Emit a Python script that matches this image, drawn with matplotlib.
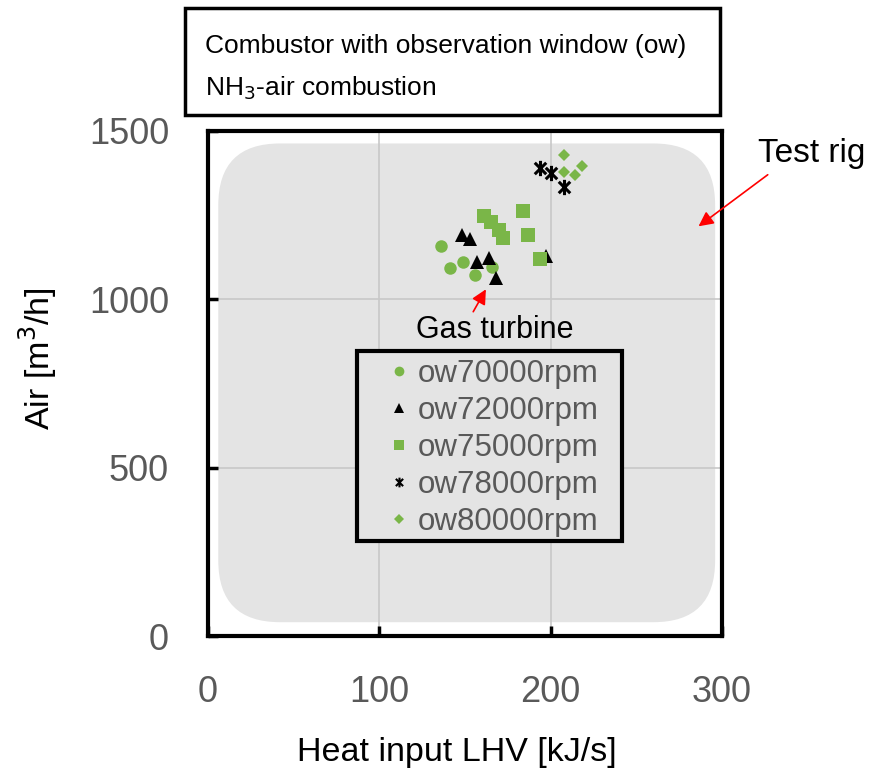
import matplotlib.pyplot as plt
from matplotlib.lines import Line2D
from matplotlib.patches import FancyBboxPatch, Rectangle
from matplotlib.path import Path

plt.rcParams['font.family'] = ['Liberation Sans', 'DejaVu Sans']

# heat input LHV [kJ/s] and air flow [m3/h] for each rotor speed
heat_70000 = [136, 141, 149, 156, 166]
air_70000 = [1157, 1093, 1110, 1071, 1096]
heat_72000 = [148, 153, 157, 164, 168, 197]
air_72000 = [1192, 1178, 1112, 1122, 1062, 1128]
heat_75000 = [161, 165, 170, 172, 184, 187, 194]
air_75000 = [1249, 1231, 1207, 1183, 1261, 1192, 1121]
heat_78000 = [194, 200, 208]
air_78000 = [1390, 1375, 1333]
heat_80000 = [208, 208, 218, 214]
air_80000 = [1430, 1378, 1396, 1370]

# operating range of the test rig (heat input, air)
rig_heat = (6, 296)
rig_air = (41, 1463)

green = '#7AB648'
grey_txt = '#595959'
grey_bg = '#e4e4e4'

# six-armed star like the spreadsheet "star" marker
star = Path([(0, -1), (0, 1), (-0.75, -0.75), (0.75, 0.75), (-0.75, 0.75), (0.75, -0.75)],
            [Path.MOVETO, Path.LINETO] * 3)

fig = plt.figure(figsize=(8.72, 7.71), dpi=100)
ax = fig.add_axes([208 / 872, 135 / 771, 514 / 872, 505 / 771])

# grey rounded box = test rig range
rig = FancyBboxPatch((rig_heat[0], rig_air[0]), rig_heat[1] - rig_heat[0], rig_air[1] - rig_air[0],
                     boxstyle='round,pad=0,rounding_size=36', mutation_aspect=5.09,
                     facecolor=grey_bg, edgecolor='none', zorder=0.5)
ax.add_patch(rig)

ax.plot(heat_70000, air_70000, 'o', color=green, ms=9, mew=0, zorder=3)
ax.plot(heat_72000, air_72000, '^', color='black', ms=9.4, mew=0, zorder=3)
ax.plot(heat_75000, air_75000, 's', color=green, ms=9.6, mew=0, zorder=3)
ax.plot(heat_78000, air_78000, marker=star, ls='none', mec='black', mfc='none', ms=11, mew=2.2, zorder=3)
ax.plot(heat_80000, air_80000, 'D', color=green, ms=6.6, mew=0, zorder=3)

ax.set_xlim(0, 300)
ax.set_ylim(0, 1500)
ax.set_xticks([0, 100, 200, 300])
ax.set_yticks([0, 500, 1000, 1500])
ax.grid(True, color='#c8c8c8', lw=1.2, zorder=1)
ax.set_axisbelow(True)

for s in ax.spines.values():
    s.set_linewidth(3)
ax.tick_params(direction='in', length=7, width=2.5, color='black',
               labelcolor=grey_txt, labelsize=26, pad=28)

ax.set_xlabel('Heat input LHV [kJ/s]', fontsize=24.5)
ax.xaxis.set_label_coords(0.485, -0.2)
ax.set_ylabel('Air [m$^3$/h]', fontsize=24.5)
ax.yaxis.set_label_coords(-0.29, 0.55)

# legend: own frame box, legend itself without frame
ax.add_patch(Rectangle((0.290, 0.188), 0.515, 0.376, transform=ax.transAxes,
                       facecolor=grey_bg, edgecolor='black', lw=3, zorder=3.5))
handles = [
    Line2D([], [], ls='none', marker='o', color=green, ms=7, mew=0),
    Line2D([], [], ls='none', marker='^', color='black', ms=7, mew=0),
    Line2D([], [], ls='none', marker='s', color=green, ms=7, mew=0),
    Line2D([], [], ls='none', marker=star, mec='black', mfc='none', ms=7, mew=1.5),
    Line2D([], [], ls='none', marker='D', color=green, ms=5, mew=0),
]
labels = ['ow70000rpm', 'ow72000rpm', 'ow75000rpm', 'ow78000rpm', 'ow80000rpm']
leg = ax.legend(handles, labels, loc='center left', bbox_to_anchor=(0.350, 0.372),
                fontsize=22.5, labelcolor=grey_txt, frameon=False, handlelength=0.7,
                handletextpad=0.25, labelspacing=0.22, borderpad=0, borderaxespad=0)
leg.set_zorder(4)

# red arrows pointing at the two operating ranges
arrow = dict(arrowstyle='-|>', color='red', lw=1.2, mutation_scale=22)
ax.annotate('', xy=(285, 1212), xytext=(328, 1375), arrowprops=arrow, annotation_clip=False)
ax.text(321, 1408, 'Test rig', fontsize=24, va='baseline', clip_on=False)
ax.annotate('', xy=(163, 1037), xytext=(154, 956), arrowprops=arrow)
ax.text(121.5, 885, 'Gas turbine', fontsize=22, va='baseline', zorder=4)

# header box
fig.patches.append(Rectangle((185 / 872, 1 - 115 / 771), 535 / 872, 107 / 771,
                             transform=fig.transFigure, fill=False, lw=2.5, edgecolor='black'))
fig.text(205 / 872, 1 - 46 / 771, 'Combustor with observation window (ow)', fontsize=19, va='center')
fig.text(205 / 872, 1 - 88 / 771, 'NH$_3$-air combustion', fontsize=19, va='center')

fig.savefig('out.png', dpi=100)
